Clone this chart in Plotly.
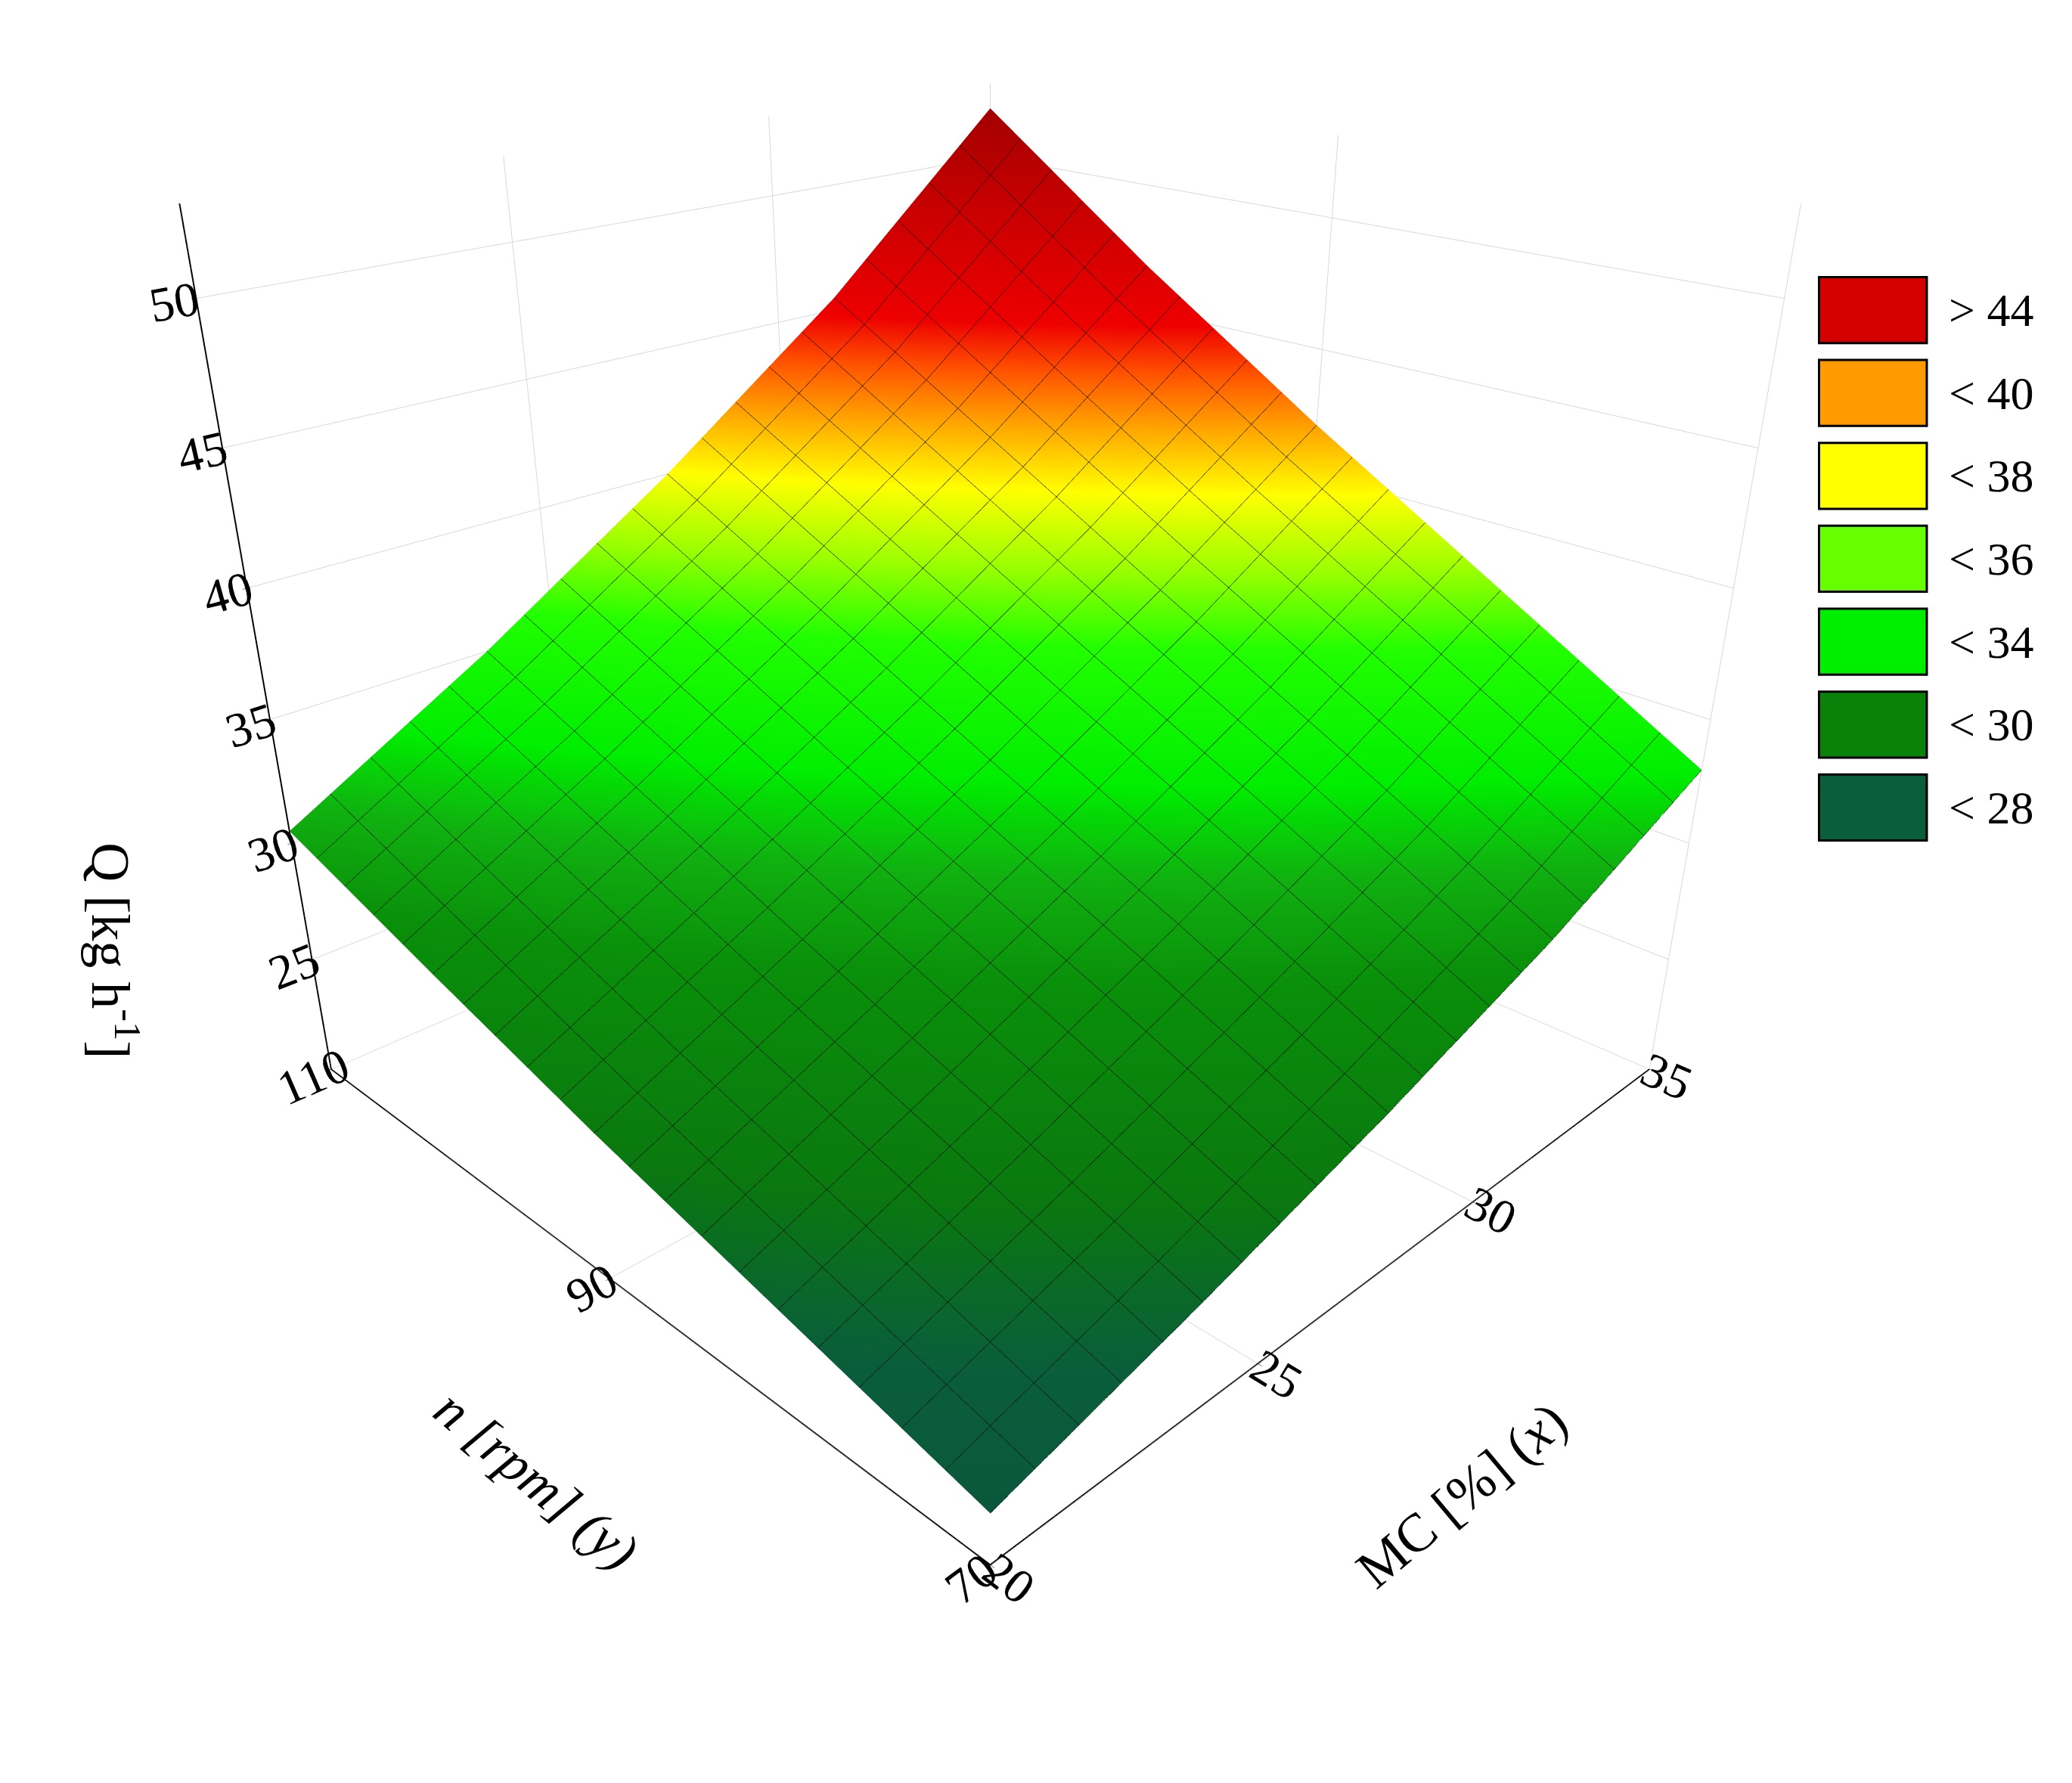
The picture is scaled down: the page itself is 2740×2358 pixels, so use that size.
import plotly.graph_objects as go

mc = [20, 23.75, 27.5, 31.25, 35]
n = [70, 80, 90, 100, 110]
# Q[i][j]: row i = n, column j = MC
Q = [
    [22.0, 24.3, 26.8, 29.6, 33.0],
    [24.0, 27.0, 30.2, 33.6, 37.5],
    [26.0, 29.6, 33.4, 37.5, 42.0],
    [28.2, 32.3, 36.7, 41.5, 46.8],
    [30.5, 35.0, 40.0, 45.5, 52.0],
]

legend_labels = ["> 44", "< 40", "< 38", "< 36", "< 34", "< 30", "< 28"]
legend_colors = ["#d40000", "#ff9a00", "#ffff00", "#66ff00", "#00ee00", "#0a820a", "#0a5e3a"]

zmin, zmax = 20, 53
def f(v): return (v - zmin) / (zmax - zmin)
cs = [
    [0, "#0a5040"], [f(23.5), "#0a5e3a"], [f(25.5), "#0a780f"], [f(29), "#0a900a"],
    [f(31), "#10b010"], [f(33), "#00ee00"], [f(36), "#22ff00"], [f(38), "#99ff00"],
    [f(40), "#ffff00"], [f(42), "#ffa000"], [f(43.5), "#ff5000"], [f(45), "#ee0000"],
    [f(48), "#d00000"], [1, "#9a0000"],
]

fig = go.Figure(go.Surface(
    x=mc, y=n, z=Q, colorscale=cs, cmin=zmin, cmax=zmax, showscale=False,
    lighting=dict(ambient=0.95, diffuse=0.1, specular=0.0),
    contours=dict(
        x=dict(show=True, start=20, end=35, size=0.75, color="black", width=16),
        y=dict(show=True, start=70, end=110, size=2, color="black", width=16),
    ),
))

font = dict(family="Liberation Serif", size=28, color="black")
def ax(rng, tv):
    return dict(title=dict(text=""), range=rng, tickvals=tv, tickfont=font, showbackground=False,
                gridcolor="#d8d8d8", showline=True, linecolor="black", linewidth=4,
                ticks="outside", tickcolor="black", zeroline=False)

fig.update_layout(
    width=2740, height=2358, paper_bgcolor="white",
    margin=dict(l=0, r=0, t=0, b=0),
    scene=dict(
        xaxis=ax([20, 35], [20, 25, 30, 35]),
        yaxis=ax([70, 110], [70, 90, 110]),
        zaxis=ax([zmin, zmax], [25, 30, 35, 40, 45, 50]),
        aspectmode="manual", aspectratio=dict(x=1, y=1, z=0.9),
        camera=dict(eye=dict(x=-1.37, y=-1.37, z=0.82), center=dict(x=0, y=0, z=-0.24)),
        domain=dict(x=[0, 0.95], y=[0, 1]),
    ),
)

tf = dict(family="Liberation Serif", size=72, color="black")
fig.add_annotation(xref="paper", yref="paper", x=0.035, y=0.47, text="Q [kg h<sup>-1</sup>]",
                   textangle=90, showarrow=False, font=tf)
fig.add_annotation(xref="paper", yref="paper", x=0.2, y=0.115, text="<i>n [rpm] (y)</i>",
                   textangle=40, showarrow=False, font=tf)
fig.add_annotation(xref="paper", yref="paper", x=0.76, y=0.105, text="MC [%] (<i>x</i>)",
                   textangle=-40, showarrow=False, font=tf)

for i, (lab, col) in enumerate(zip(legend_labels, legend_colors)):
    y1 = 0.848 - i * 0.0465
    fig.add_shape(type="rect", xref="paper", yref="paper", x0=0.875, x1=0.927,
                  y0=y1 - 0.037, y1=y1, fillcolor=col, line=dict(color="black", width=3))
    fig.add_annotation(xref="paper", yref="paper", x=0.937, y=y1 - 0.0185, text=lab,
                       showarrow=False, xanchor="left", yanchor="middle",
                       font=dict(family="Liberation Serif", size=62, color="black"))

fig.write_html("out.html")
